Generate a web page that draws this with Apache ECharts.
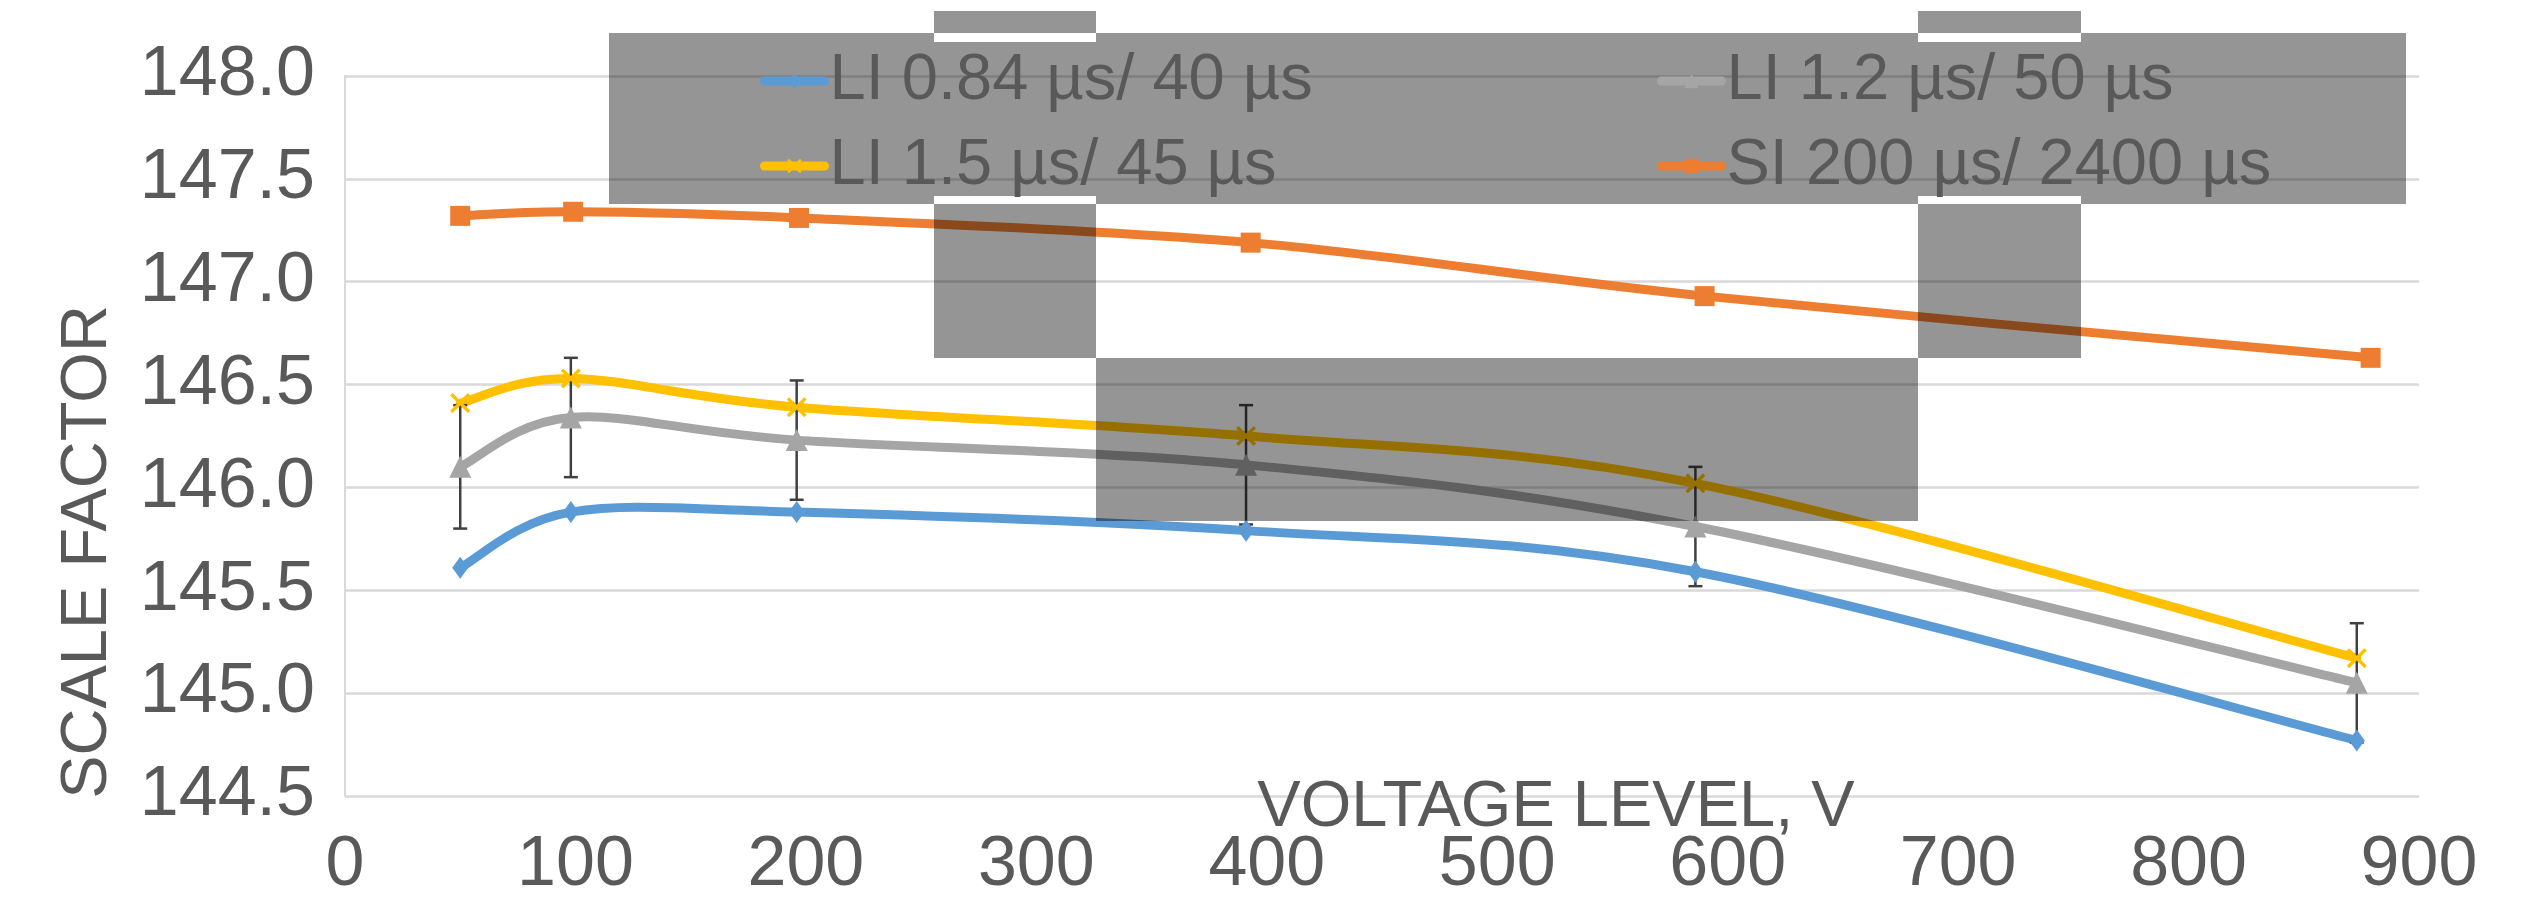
<!DOCTYPE html>
<html>
<head>
<meta charset="utf-8">
<script src="https://cdn.jsdelivr.net/npm/echarts@6/dist/echarts.min.js"></script>
<style>html,body{margin:0;padding:0;background:#fff;}#c{width:2538px;height:909px;}</style>
</head>
<body>
<div id="c"></div>
<script>
// ---- data ----
const seriesNames = ['LI 0.84 µs/ 40 µs', 'LI 1.2 µs/ 50 µs', 'LI 1.5 µs/ 45 µs', 'SI 200 µs/ 2400 µs'];
const voltLI = [50, 98, 196, 391, 586, 873];
const voltSI = [50, 99, 197, 393, 590, 879];
const li084 = [145.61, 145.88, 145.88, 145.79, 145.59, 144.77];
const li12  = [146.10, 146.34, 146.23, 146.11, 145.81, 145.05];
const li15  = [146.41, 146.53, 146.39, 146.25, 146.02, 145.17];
const si200 = [147.32, 147.34, 147.31, 147.19, 146.93, 146.63];
const li12Err = [0.30, 0.29, 0.29, 0.29, 0.29, 0.29];
const yTicks = [144.5, 145.0, 145.5, 146.0, 146.5, 147.0, 147.5, 148.0];
const xTicks = [0, 100, 200, 300, 400, 500, 600, 700, 800, 900];

const FONT = "'Liberation Sans', Arial, sans-serif";
const TXT = '#595959';
const FS = 65;
const FS_AX = 70;
const LW = 9;

const pairs = (xs, ys) => xs.map((x, i) => [x, ys[i]]);
const xMark = 'path://M0,1.2L1.2,0L5,3.8L8.8,0L10,1.2L6.2,5L10,8.8L8.8,10L5,6.2L1.2,10L0,8.8L3.8,5Z';

// markers + legend entry (line itself hidden; the smoothed curve is drawn by a custom series)
function markerSeries(name, xs, ys, color, symbol, size) {
  return {
    name, type: 'line', data: pairs(xs, ys),
    symbol, symbolSize: size, showSymbol: true,
    lineStyle: { color, width: LW, opacity: 0 },
    itemStyle: { color },
    z: 4, animation: false
  };
}
// Excel-like smoothed curve (Catmull-Rom Bezier segments through the data points)
function curveSeries(xs, ys, color) {
  return {
    type: 'custom', z: 2, silent: true, animation: false,
    data: pairs(xs, ys),
    renderItem: (params, api) => {
      const i = params.dataIndex, n = xs.length;
      if (i >= n - 1) return null;
      const P = j => api.coord([xs[Math.max(0, Math.min(n - 1, j))], ys[Math.max(0, Math.min(n - 1, j))]]);
      const p0 = P(i - 1), p1 = P(i), p2 = P(i + 1), p3 = P(i + 2);
      const k = 1 / 6;
      return {
        type: 'bezierCurve',
        shape: {
          x1: p1[0], y1: p1[1], x2: p2[0], y2: p2[1],
          cpx1: p1[0] + (p2[0] - p0[0]) * k, cpy1: p1[1] + (p2[1] - p0[1]) * k,
          cpx2: p2[0] - (p3[0] - p1[0]) * k, cpy2: p2[1] - (p3[1] - p1[1]) * k
        },
        style: { stroke: color, lineWidth: LW, fill: null, lineCap: 'round' }
      };
    }
  };
}

const overlay = 'rgba(0,0,0,0.415)';
const rects = [
  [609, 33, 934, 204], [934, 11, 1096, 33], [934, 42, 1096, 196], [934, 204, 1096, 358],
  [1096, 33, 1918, 204], [1096, 358, 1918, 521],
  [1918, 11, 2081, 33], [1918, 42, 2081, 196], [1918, 204, 2081, 358],
  [2081, 33, 2406, 204]
];

const legendCommon = {
  orient: 'vertical', top: 41, itemWidth: 60, itemHeight: 18, itemGap: 15, z: 100,
  lineStyle: { width: LW, opacity: 1, cap: 'round' },
  textStyle: { color: TXT, fontFamily: FONT, fontSize: FS, lineHeight: 70 }
};

const chart = echarts.init(document.getElementById('c'), null, { renderer: 'canvas' });
chart.setOption({
  backgroundColor: '#fff',
  animation: false,
  grid: { left: 345, right: 119, top: 76, bottom: 113, containLabel: false },
  xAxis: {
    type: 'value', min: 0, max: 900, interval: 100,
    axisLine: { show: false }, axisTick: { show: false }, splitLine: { show: false },
    axisLabel: { color: TXT, fontFamily: FONT, fontSize: FS_AX, margin: 35,
      formatter: v => xTicks.includes(v) ? String(v) : '' }
  },
  yAxis: {
    type: 'value', min: 144.5, max: 148, interval: 0.5,
    axisLine: { show: true, lineStyle: { color: '#D9D9D9', width: 2 } },
    axisTick: { show: false },
    splitLine: { show: true, lineStyle: { color: '#D9D9D9', width: 2.5 } },
    axisLabel: { color: TXT, fontFamily: FONT, fontSize: FS_AX, margin: 30,
      formatter: v => yTicks.some(t => Math.abs(t - v) < 1e-9) ? v.toFixed(1) : '' }
  },
  legend: [
    Object.assign({ data: [seriesNames[0], seriesNames[2]], left: 755 }, legendCommon),
    Object.assign({ data: [seriesNames[1], seriesNames[3]], left: 1652 }, legendCommon)
  ],
  graphic: [
    ...rects.map(r => ({
      type: 'rect', z: 50, silent: true,
      shape: { x: r[0], y: r[1], width: r[2] - r[0], height: r[3] - r[1] },
      style: { fill: overlay }
    })),
    { type: 'text', z: 10, rotation: Math.PI / 2, x: 88, y: 552,
      style: { text: 'SCALE FACTOR', fill: TXT, font: FS + 'px ' + FONT, align: 'center', verticalAlign: 'middle' } },
    { type: 'text', z: 10, x: 1556, y: 808,
      style: { text: 'VOLTAGE LEVEL, V', fill: TXT, font: FS + 'px ' + FONT, align: 'center', verticalAlign: 'middle' } }
  ],
  series: [
    curveSeries(voltLI, li084, '#5B9BD5'),
    curveSeries(voltLI, li12, '#A5A5A5'),
    curveSeries(voltLI, li15, '#FFC000'),
    curveSeries(voltSI, si200, '#ED7D31'),
    markerSeries(seriesNames[0], voltLI, li084, '#5B9BD5', 'diamond', [16, 22]),
    markerSeries(seriesNames[1], voltLI, li12, '#A5A5A5', 'triangle', 22),
    markerSeries(seriesNames[2], voltLI, li15, '#FFC000', xMark, 20),
    markerSeries(seriesNames[3], voltSI, si200, '#ED7D31', 'rect', 20),
    {
      type: 'custom', name: 'err', z: 3, silent: true,
      data: voltLI.map((x, i) => [x, li12[i], li12Err[i]]),
      renderItem: (params, api) => {
        const x = api.value(0), y = api.value(1), e = api.value(2);
        const t = api.coord([x, y + e]), b = api.coord([x, y - e]);
        const st = { stroke: '#404040', lineWidth: 2.5 };
        const cw = 7;
        return { type: 'group', children: [
          { type: 'line', shape: { x1: t[0], y1: t[1], x2: b[0], y2: b[1] }, style: st },
          { type: 'line', shape: { x1: t[0] - cw, y1: t[1], x2: t[0] + cw, y2: t[1] }, style: st },
          { type: 'line', shape: { x1: b[0] - cw, y1: b[1], x2: b[0] + cw, y2: b[1] }, style: st }
        ] };
      }
    }
  ]
});
</script>
</body>
</html>
